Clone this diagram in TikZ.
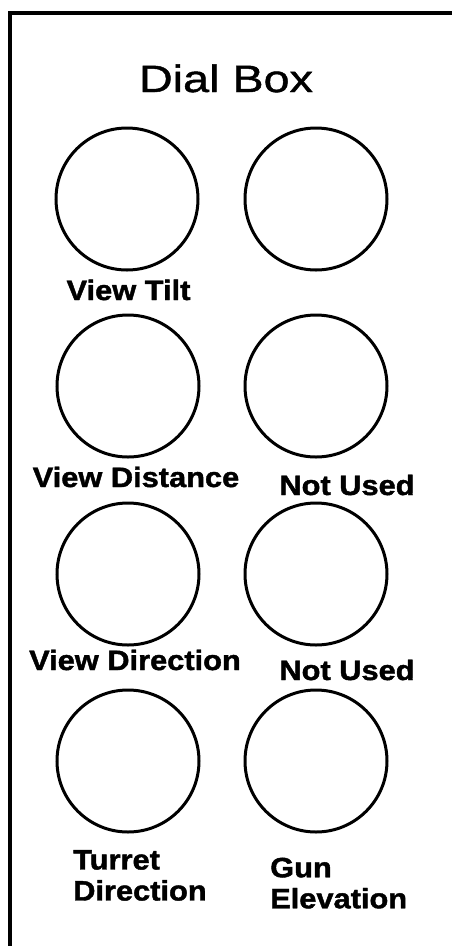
\documentclass[tikz,border=0pt]{standalone}
\usepackage{fontspec}
\newfontfamily\titlefont[FakeStretch=1.23,FakeBold=1.2]{Liberation Sans}
\newfontfamily\lblfont[FakeStretch=1.1,BoldFeatures={FakeBold=1.5}]{Liberation Sans}
\begin{document}
\begin{tikzpicture}[x=1pt,y=-1pt,
  dial/.style={circle,draw=black,line width=3pt,minimum size=142pt,inner sep=0pt},
  lbl/.style={inner sep=0pt,font=\lblfont\bfseries\fontsize{28}{31}\selectfont},
  frame/.style={line width=3.5pt,line cap=rect}]
\useasboundingbox (0,0) rectangle (451,946);
\fill[white] (0,0) rectangle (451,946);
% frame (only left and top edges visible)
\coordinate (fbl) at (10,946);
\coordinate (ftl) at (10,13);
\coordinate (ftr) at (451,13);
\draw[frame] (fbl) -- (ftl) -- (ftr);
% title
\node[inner sep=0pt,anchor=base,font=\titlefont\fontsize{38}{40}\selectfont] (title) at (226,92) {Dial Box};
% dials
\node[dial] (d1) at (127,199) {};
\node[dial] (d2) at (316,199) {};
\node[dial] (d3) at (128,386) {};
\node[dial] (d4) at (316,386) {};
\node[dial] (d5) at (128,574) {};
\node[dial] (d6) at (316,574) {};
\node[dial] (d7) at (128,761) {};
\node[dial] (d8) at (316,761) {};
% labels
\node[lbl,anchor=base] (l1) at (128.5,300) {View Tilt};
\node[lbl,anchor=base] (l3) at (136,487) {View Distance};
\node[lbl,anchor=base] (l4) at (347,495) {Not Used};
\node[lbl,anchor=base] (l5) at (135,670) {View Direction};
\node[lbl,anchor=base] (l6) at (347,680) {Not Used};
\node[lbl,anchor=north west,align=left] (l7) at (73,850) {Turret\\Direction};
\node[lbl,anchor=north west,align=left] (l8) at (270,857.5) {Gun\\Elevation};
\end{tikzpicture}
\end{document}
